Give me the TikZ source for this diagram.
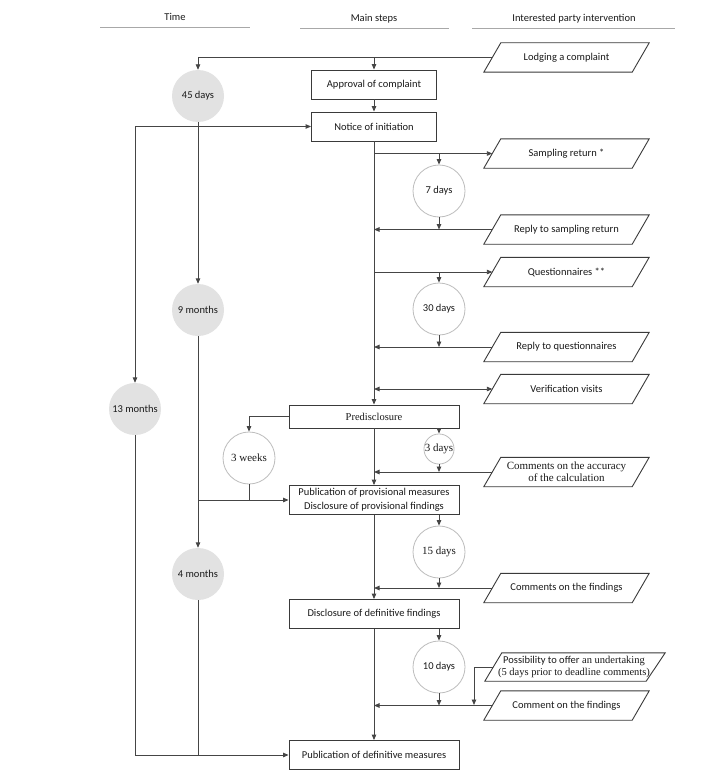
\documentclass[tikz,border=0pt]{standalone}
\usepackage{fontspec}
\setmainfont{Liberation Serif}
\setsansfont{Carlito}
\usetikzlibrary{arrows.meta,calc}
\definecolor{txtc}{HTML}{1A1A1A}
\definecolor{boxc}{HTML}{3A3A3A}
\definecolor{linec}{HTML}{454545}
\definecolor{grayc}{HTML}{E2E2E2}
\definecolor{circc}{HTML}{BDBDBD}
\definecolor{hdrc}{HTML}{A8A8A8}
\begin{document}
\begin{tikzpicture}[x=1pt,y=-1pt,
  every node/.style={text=txtc, font=\sffamily\fontsize{10.5}{12.5}\selectfont},
  serif/.style={font=\rmfamily\fontsize{11}{12}\selectfont},
  mainbox/.style={draw=boxc, line width=0.9pt, minimum width=125pt, minimum height=29pt, inner sep=0pt, align=center},
  widebox/.style={mainbox, minimum width=170pt},
  ptext/.style={minimum width=148pt, minimum height=29pt, inner sep=0pt, align=center},
  pbox/.style={draw=boxc, line width=0.9pt},
  gcirc/.style={circle, fill=grayc, minimum size=52pt, inner sep=0pt},
  wcirc/.style={circle, draw=circc, line width=0.8pt, fill=white, minimum size=52pt, inner sep=0pt},
  conn/.style={draw=linec, line width=0.9pt},
  arr/.style={conn, -{Triangle[length=5.5pt,width=4.5pt]}},
  darr/.style={conn, {Triangle[length=5.5pt,width=4.5pt]}-{Triangle[length=5.5pt,width=4.5pt]}},
  hline/.style={draw=hdrc, line width=0.8pt}
]
\useasboundingbox[fill=white] (0,0) rectangle (722,776);

% headers
\node (hTime) at (175,17) {Time};
\node (hMain) at (374,19) {Main steps};
\node (hInt) at (574,19) {Interested party intervention};
\coordinate (hTa) at (100,27); \coordinate (hTb) at (250,27);
\coordinate (hMa) at (300,28); \coordinate (hMb) at (449,28);
\coordinate (hIa) at (472,28); \coordinate (hIb) at (675,28);
\draw[hline] (hTa) -- (hTb);
\draw[hline] (hMa) -- (hMb);
\draw[hline] (hIa) -- (hIb);

% main steps
\node[mainbox] (approval) at (374,84.5) {Approval of complaint};
\node[mainbox] (notice) at (374,126.5) {Notice of initiation};
\node[widebox, minimum height=23pt, serif, font=\rmfamily\fontsize{10.5}{12}\selectfont] (predisc) at (374,416.5) {Predisclosure};
\node[widebox] (provis) at (374,500) {Publication of provisional measures\\[1.5pt]Disclosure of provisional findings};
\node[widebox] (defFind) at (374,614) {Disclosure of definitive findings};
\node[widebox] (defMeas) at (374,755) {Publication of definitive measures};

% time circles
\node[gcirc] (c45) at (198,96) {45 days};
\node[gcirc] (c9m) at (198,310) {9 months};
\node[gcirc] (c13m) at (135,409) {13 months};
\node[gcirc] (c4m) at (198,574) {4 months};

% deadline circles
\node[wcirc] (c7) at (439,191) {7 days};
\node[wcirc] (c30) at (439,309) {30 days};
\node[wcirc, serif] (c3w) at (249,458) {3 weeks};
\node[wcirc, serif, minimum size=27pt] (c3d) at (439,449) {3 days};
\node[wcirc, serif] (c15) at (439,552) {15 days};
\node[wcirc] (c10) at (439,667) {10 days};

% interested party
\node[ptext] (lodge) at (566.5,57.5) {Lodging a complaint};
\node[ptext] (samp) at (566.5,153.5) {Sampling return *};
\node[ptext] (replySamp) at (566.5,229.5) {Reply to sampling return};
\node[ptext] (quest) at (566.5,272) {Questionnaires **};
\node[ptext] (replyQ) at (566.5,347) {Reply to questionnaires};
\node[ptext] (verif) at (566.5,389) {Verification visits};
\node[ptext, serif] (accuracy) at (566.5,472) {Comments on the accuracy\\of the calculation};
\node[ptext] (commFind) at (566.5,588) {Comments on the findings};
\node[ptext, minimum width=161pt, minimum height=28pt, font=\rmfamily\fontsize{10.5}{11.5}\selectfont] (poss) at (574,667) {{\sffamily Possibility to offer} an undertaking\\(5 days prior to deadline comments)};
\node[ptext] (commDef) at (566.5,705.5) {Comment on the findings};

\foreach \n in {lodge,samp,replySamp,quest,replyQ,verif,accuracy,commFind,commDef}
  \draw[pbox] ([xshift=-8.5pt]\n.south west) -- ([xshift=8.5pt]\n.north west) -- ([xshift=8.5pt]\n.north east) -- ([xshift=-8.5pt]\n.south east) -- cycle;
\draw[pbox] ([xshift=-8.5pt]poss.south west) -- ([xshift=8.5pt]poss.north west) -- ([xshift=10.5pt]poss.north east) -- ([xshift=-8.5pt]poss.south east) -- cycle;

% connectors: top
\draw[arr] (lodge.west) -| (c45.north);
\draw[arr] (approval.north |- lodge.west) -- (approval.north);
\draw[arr] (approval.south) -- (notice.north);
\draw[darr] (c13m.north) |- (notice.west);
\draw[arr] (c45.south) -- (c9m.north);
\draw[arr] (c9m.south) -- (c4m.north);
\draw[arr] (c9m.south |- provis.west) -- (provis.west);
\draw[arr] (c13m.south) |- (defMeas.west);
\draw[conn] (c4m.south) -- (c4m.south |- defMeas.west);

% main column
\draw[arr] (notice.south) -- (predisc.north);
\draw[arr] (notice.south |- samp.west) -- (samp.west);
\draw[arr] (c7.north |- samp.west) -- (c7.north);
\draw[arr] (c7.south) -- (c7.south |- replySamp.west);
\draw[arr] (replySamp.west) -- (notice.south |- replySamp.west);
\draw[arr] (notice.south |- quest.west) -- (quest.west);
\draw[arr] (c30.north |- quest.west) -- (c30.north);
\draw[arr] (c30.south) -- (c30.south |- replyQ.west);
\draw[arr] (replyQ.west) -- (notice.south |- replyQ.west);
\draw[darr] (notice.south |- verif.west) -- (verif.west);

% predisclosure
\draw[arr] (predisc.west) -| (c3w.north);
\draw[conn] (c3w.south) -- (c3w.south |- provis.west);
\draw[arr] (predisc.south) -- (provis.north);
\draw[arr] (predisc.south -| c3d.north) -- (c3d.north);
\draw[arr] (c3d.south) -- (c3d.south |- accuracy.west);
\draw[arr] (accuracy.west) -- (predisc.south |- accuracy.west);

% provisional
\draw[arr] (provis.south) -- (defFind.north);
\draw[arr] (provis.south -| c15.north) -- (c15.north);
\draw[arr] (c15.south) -- (c15.south |- commFind.west);
\draw[arr] (commFind.west) -- (provis.south |- commFind.west);

% definitive
\draw[arr] (defFind.south) -- (defMeas.north);
\draw[arr] (defFind.south -| c10.north) -- (c10.north);
\draw[arr] (c10.south) -- (c10.south |- commDef.west);
\draw[arr] (commDef.west) -- (defFind.south |- commDef.west);
\coordinate (pk) at (474,705);
\draw[arr] (poss.west) -| (pk);
\end{tikzpicture}
\end{document}
